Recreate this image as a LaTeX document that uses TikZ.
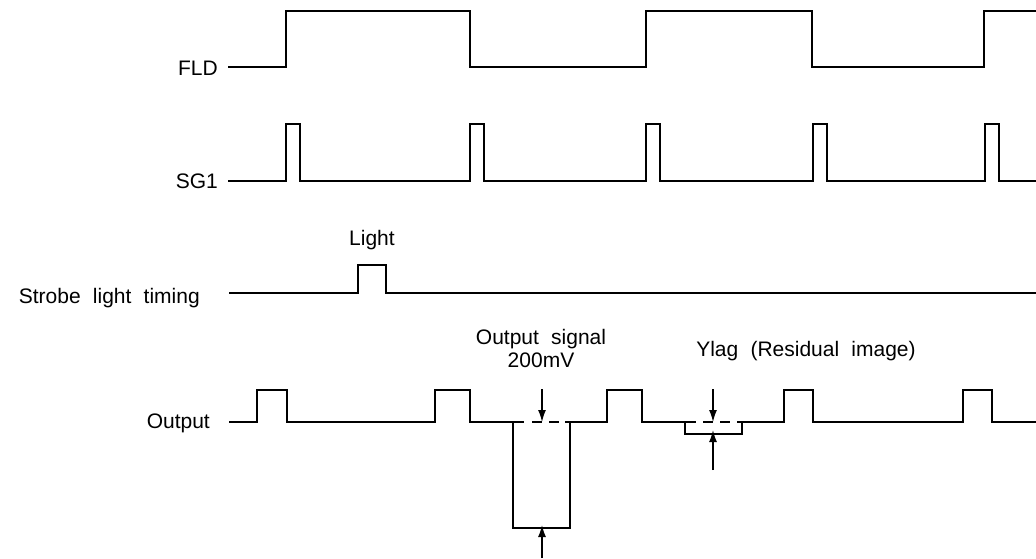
\documentclass[tikz,border=0pt]{standalone}
\usepackage{fontspec}
\setmainfont{Liberation Sans}
\newfontfamily\lblfamily[WordSpace=2.1]{Liberation Sans}
\usetikzlibrary{arrows.meta}
\begin{document}
\begin{tikzpicture}[x=1pt,y=-1pt,
  sig/.style={line width=2pt,line join=miter},
  thinsig/.style={line width=1.5pt,line join=miter},
  lbl/.style={inner sep=0pt,font=\lblfamily\fontsize{21}{24}\selectfont},
  pointer/.style={line width=1.4pt,-{Latex[length=12pt,width=8pt]}}]
\useasboundingbox (0,0) rectangle (1036,558);
\node[lbl,anchor=base east] (fld) at (218,75) {FLD};
\node[lbl,anchor=base east] (sg) at (218,188) {SG1};
\node[lbl,anchor=base east] (strobe) at (200,303) {Strobe light timing};
\node[lbl,anchor=base east] (out) at (210,428) {Output};
\node[lbl,anchor=base] (light) at (372,245) {Light};
\node[lbl,anchor=base] (outsig) at (541,344) {Output signal};
\node[lbl,anchor=base] (mv) at (541,367) {200mV};
\node[lbl,anchor=base] (ylag) at (806,356) {Ylag (Residual image)};
\draw[sig] (228,67) -- (286,67) -- (286,11) -- (470,11) -- (470,67) -- (646,67) -- (646,11) -- (812,11) -- (812,67) -- (984,67) -- (984,11) -- (1036,11);
\draw[thinsig] (228,181) foreach \x in {286,470,646,813,985} { -- (\x,181) -- (\x,124) -- (\x+14,124) -- (\x+14,181) } -- (1036,181);
\draw[sig] (229,293) -- (358,293) -- (358,265) -- (386,265) -- (386,293) -- (1036,293);
\draw[sig] (229,422) foreach \x/\w in {257/30,435/35,607/35,784/29,963/29} { -- (\x,422) -- (\x,390) -- (\x+\w,390) -- (\x+\w,422) } -- (1036,422);
\draw[thinsig] (513,422) -- (513,528) -- (570,528) -- (570,422);
\draw[thinsig] (685,422) -- (685,434) -- (742,434) -- (742,422);
\fill[white] (524,418) rectangle (565,426);
\fill[white] (696,418) rectangle (737,426);
\draw[sig,dash pattern=on 10pt off 7pt] (532,422) -- (559,422);
\draw[sig,dash pattern=on 10pt off 7pt] (703,422) -- (730,422);
\coordinate (bigtop) at (542,389);
\coordinate (bigbase) at (542,422);
\coordinate (bigfoot) at (542,558);
\coordinate (bigbot) at (542,530);
\coordinate (lagtop) at (713,389);
\coordinate (lagbase) at (713,422);
\coordinate (lagfoot) at (713,470);
\coordinate (lagbot) at (713,436);
\draw[pointer] (bigtop) -- (bigbase);
\draw[pointer] (bigfoot) -- ([yshift=5pt]bigbot);
\draw[pointer] (lagtop) -- (lagbase);
\draw[pointer] (lagfoot) -- ([yshift=6pt]lagbot);
\end{tikzpicture}
\end{document}
